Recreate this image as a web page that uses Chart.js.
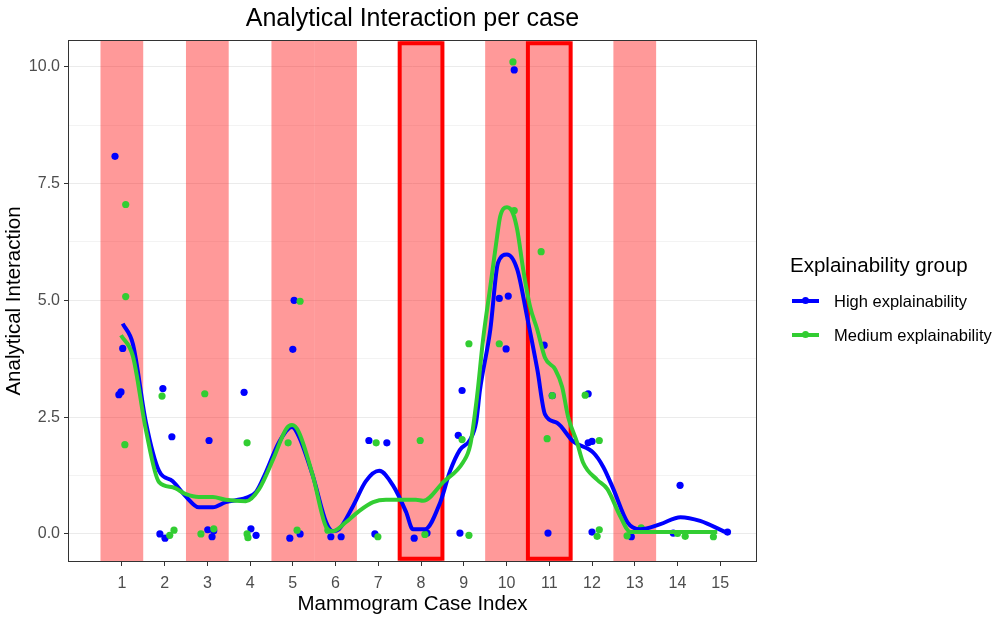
<!DOCTYPE html>
<html>
<head>
<meta charset="utf-8">
<script src="https://cdn.jsdelivr.net/npm/chart.js@4"></script>
<style>
  body { margin: 0; background: #fff; }
  #wrap { position: relative; width: 992px; height: 617px; font-family: "Liberation Sans", Arial, sans-serif; }
  #chartTitle { position: absolute; left: 68px; width: 689px; top: 2px; text-align: center; font-size: 25px; line-height: 30px; color: #000; white-space: nowrap; }
  .lg-title { position: absolute; left: 790px; top: 253px; font-size: 20.5px; line-height: 24px; color: #000; white-space: nowrap; }
  .lg-item { position: absolute; left: 792px; height: 20px; white-space: nowrap; }
  .lg-key { position: absolute; left: 0; top: 8px; width: 27px; height: 4px; }
  .lg-dot { position: absolute; left: 10px; top: 6px; width: 7px; height: 7px; border-radius: 50%; }
  .lg-text { position: absolute; left: 42px; top: 0; font-size: 16.5px; line-height: 20px; color: #000; }
</style>
</head>
<body>
<div id="wrap">
  <canvas id="myChart" width="992" height="617"></canvas>
  <div id="chartTitle">Analytical Interaction per case</div>
  <div id="legend">
    <div class="lg-title">Explainability group</div>
    <div class="lg-item" style="top:291px">
      <div class="lg-key" style="background:#0000FF"></div><div class="lg-dot" style="background:#0000FF"></div>
      <div class="lg-text">High explainability</div>
    </div>
    <div class="lg-item" style="top:325px">
      <div class="lg-key" style="background:#32CD32"></div><div class="lg-dot" style="background:#32CD32"></div>
      <div class="lg-text">Medium explainability</div>
    </div>
  </div>
</div>
<script>
// Casos y ejes
const cases = [1, 2, 3, 4, 5, 6, 7, 8, 9, 10, 11, 12, 13, 14, 15];
const shadedCases = [1, 3, 5, 6, 8, 10, 11, 13];
const boxedCases = [8, 11];
const yMajorTicks = [0, 2.5, 5, 7.5, 10];
const yMinorTicks = [1.25, 3.75, 6.25, 8.75];

// Puntos (con jitter)
const highX = [0.84, 1.02, 0.93, 0.98, 1.96, 2.17, 1.89, 2.01, 3.04, 3.01, 3.15, 3.11, 3.86, 4.02, 4.14,
  5.03, 5.0, 4.93, 5.17, 5.89, 6.13, 6.78, 7.2, 6.92, 7.84, 8.14, 8.96, 8.87, 8.91,
  10.18, 9.83, 10.04, 9.99, 10.88, 11.07, 10.97, 11.91, 11.91, 12.0, 12.0, 12.92, 14.06, 13.9, 15.17];
const highY = [8.08, 3.97, 2.98, 3.04, 3.11, 2.08, 0.0, -0.09, 2.0, 0.09, 0.07, -0.06, 3.03, 0.11, -0.03,
  5.0, 3.95, -0.09, 0.0, -0.06, -0.06, 2.0, 1.95, 0.0, -0.09, 0.02, 3.07, 2.11, 0.02,
  9.93, 5.04, 5.09, 3.96, 4.04, 2.96, 0.02, 3.0, 1.95, 1.98, 0.04, -0.06, 1.04, 0.02, 0.04];
const mediumX = [1.09, 1.09, 1.07, 1.94, 2.12, 2.22, 2.94, 2.85, 3.15, 3.93, 3.93, 3.95, 5.17, 4.89, 5.1,
  5.82, 6.95, 6.99, 7.98, 8.09, 9.12, 8.96, 9.12, 10.15, 10.18, 9.83, 10.81, 11.07, 10.95,
  11.84, 12.17, 12.12, 12.17, 12.82, 13.15, 14.0, 14.18, 14.84];
const mediumY = [7.05, 5.08, 1.91, 2.95, -0.03, 0.08, 3.0, 0.0, 0.11, 1.95, 0.0, -0.08, 4.98, 1.95, 0.08,
  0.08, 1.95, -0.06, 2.0, -0.01, 4.07, 2.02, -0.03, 10.1, 6.92, 4.07, 6.04, 2.96, 2.04,
  2.97, 2.0, -0.05, 0.09, -0.04, 0.13, 0.01, -0.05, -0.06];

// Curvas suavizadas
const highFitX = [1.02, 1.26, 1.56, 1.87, 2.19, 2.5, 2.8, 3.13, 3.43, 3.9, 4.14, 4.37, 4.68, 4.98, 5.14,
  5.47, 5.78, 5.94, 6.08, 6.41, 6.71, 7.02, 7.35, 7.65, 7.81, 8.09, 8.45, 8.68, 8.91, 9.15,
  9.29, 9.38, 9.62, 9.8, 10.01, 10.25, 10.48, 10.72, 10.9, 11.18, 11.56, 12.03, 12.26, 12.5,
  12.83, 13.13, 13.6, 14.07, 14.53, 15.12];
const highFitY = [4.5, 4.06, 2.4, 1.35, 1.13, 0.8, 0.57, 0.57, 0.68, 0.77, 0.9, 1.32, 1.97, 2.29, 2.09,
  1.24, 0.25, 0.06, 0.1, 0.6, 1.13, 1.35, 1.03, 0.47, 0.1, 0.1, 0.68, 1.35, 1.8, 2.02,
  2.4, 3.09, 4.37, 5.8, 5.98, 5.66, 4.65, 3.52, 2.56, 2.38, 1.98, 1.74, 1.44, 0.96,
  0.25, 0.1, 0.21, 0.36, 0.28, 0.04];
const mediumFitX = [0.98, 1.26, 1.56, 1.87, 2.19, 2.5, 2.8, 3.13, 3.43, 3.9, 4.21, 4.54, 4.84, 4.98, 5.14,
  5.47, 5.78, 5.94, 6.24, 6.55, 6.88, 7.18, 7.88, 8.05, 8.52, 8.98, 9.15, 9.31, 9.45,
  9.62, 9.78, 9.85, 10.01, 10.15, 10.25, 10.39, 10.55, 10.72, 10.9, 11.14, 11.3, 11.44,
  11.65, 11.79, 12.12, 12.36, 12.66, 12.9, 13.36, 14.93];
const mediumFitY = [4.25, 3.8, 2.24, 1.11, 1.0, 0.85, 0.79, 0.79, 0.73, 0.7, 0.96, 1.6, 2.24, 2.33, 2.18,
  1.24, 0.15, 0.06, 0.25, 0.49, 0.68, 0.73, 0.73, 0.71, 1.11, 1.53, 1.9, 2.94, 4.15,
  5.29, 6.37, 6.79, 6.99, 6.86, 6.51, 5.66, 4.87, 4.37, 3.77, 3.52, 3.15, 2.51,
  1.96, 1.53, 1.16, 0.96, 0.38, 0.04, 0.04, 0.04];

const boxTop = 10.5;
const boxBottom = -0.53;

const toPoints = (xs, ys) => xs.map((v, i) => ({ x: v, y: ys[i] }));

const bandPlugin = {
  id: 'caseBands',
  beforeDatasetsDraw(chart) {
    const { ctx, chartArea, scales: { x, y } } = chart;
    ctx.save();
    ctx.fillStyle = 'rgba(255, 0, 0, 0.4)';
    shadedCases.forEach(c => {
      const l = x.getPixelForValue(c - 0.5);
      const r = x.getPixelForValue(c + 0.5);
      ctx.fillRect(l, chartArea.top, r - l, chartArea.bottom - chartArea.top);
    });
    ctx.strokeStyle = '#FF0000';
    ctx.lineWidth = 4;
    boxedCases.forEach(c => {
      const l = x.getPixelForValue(c - 0.5);
      const r = x.getPixelForValue(c + 0.5);
      const t = y.getPixelForValue(boxTop);
      const b = y.getPixelForValue(boxBottom);
      ctx.strokeRect(l, t, r - l, b - t);
    });
    ctx.restore();
  },
  afterDraw(chart) {
    const { ctx, chartArea } = chart;
    ctx.save();
    ctx.strokeStyle = '#333333';
    ctx.lineWidth = 1;
    ctx.strokeRect(Math.round(chartArea.left) + 0.5, Math.round(chartArea.top) + 0.5,
      Math.round(chartArea.right - chartArea.left) - 1, Math.round(chartArea.bottom - chartArea.top) - 1);
    ctx.restore();
  }
};

const ctx = document.getElementById('myChart').getContext('2d');
const myChart = new Chart(ctx, {
  type: 'scatter',
  data: {
    datasets: [
      {
        type: 'line', label: 'Medium explainability', data: toPoints(mediumFitX, mediumFitY),
        borderColor: '#32CD32', borderWidth: 4, pointRadius: 0, cubicInterpolationMode: 'monotone', order: 0
      },
      {
        type: 'line', label: 'High explainability', data: toPoints(highFitX, highFitY),
        borderColor: '#0000FF', borderWidth: 4, pointRadius: 0, cubicInterpolationMode: 'monotone', order: 1
      },
      {
        label: 'Medium points', data: toPoints(mediumX, mediumY),
        backgroundColor: '#32CD32', borderWidth: 0, pointRadius: 3.6, order: 2
      },
      {
        label: 'High points', data: toPoints(highX, highY),
        backgroundColor: '#0000FF', borderWidth: 0, pointRadius: 3.6, order: 3
      }
    ]
  },
  options: {
    responsive: false,
    animation: false,
    devicePixelRatio: 1,
    layout: { padding: { left: 0, right: 235, top: 40, bottom: 0 } },
    plugins: {
      legend: { display: false },
      tooltip: { enabled: false },
      title: { display: false }
    },
    scales: {
      x: {
        type: 'linear',
        min: -0.26,
        max: 15.86,
        afterBuildTicks: scale => { scale.ticks = cases.map(v => ({ value: v })); },
        afterFit: scale => { scale.height = 55; },
        ticks: {
          color: '#4D4D4D', padding: 8,
          font: { family: 'Liberation Sans, Arial, sans-serif', size: 16 },
          callback: v => String(v)
        },
        grid: { drawOnChartArea: false, drawTicks: true, tickLength: 4, tickColor: '#333333' },
        border: { display: false },
        title: {
          display: true, text: 'Mammogram Case Index', color: '#000',
          font: { family: 'Liberation Sans, Arial, sans-serif', size: 20.5, lineHeight: 1.2 },
          padding: { top: 0, bottom: 0 }
        }
      },
      y: {
        min: -0.6,
        max: 10.57,
        afterBuildTicks: scale => {
          scale.ticks = yMajorTicks.concat(yMinorTicks).sort((a, b) => a - b).map(v => ({ value: v }));
        },
        afterFit: scale => { scale.width = 68; },
        ticks: {
          color: '#4D4D4D', padding: 4,
          font: { family: 'Liberation Sans, Arial, sans-serif', size: 16 },
          callback: v => (yMajorTicks.includes(v) ? v.toFixed(1) : '')
        },
        grid: {
          color: c => (c.tick && yMajorTicks.includes(c.tick.value) ? '#EBEBEB' : '#F3F3F3'),
          tickColor: c => (c.tick && yMajorTicks.includes(c.tick.value) ? '#333333' : 'rgba(0,0,0,0)'),
          tickLength: 4
        },
        border: { display: false },
        title: {
          display: true, text: 'Analytical Interaction', color: '#000',
          font: { family: 'Liberation Sans, Arial, sans-serif', size: 20.5, lineHeight: 1.2 },
          padding: { top: 2, bottom: 0 }
        }
      }
    }
  },
  plugins: [bandPlugin]
});
</script>
</body>
</html>
